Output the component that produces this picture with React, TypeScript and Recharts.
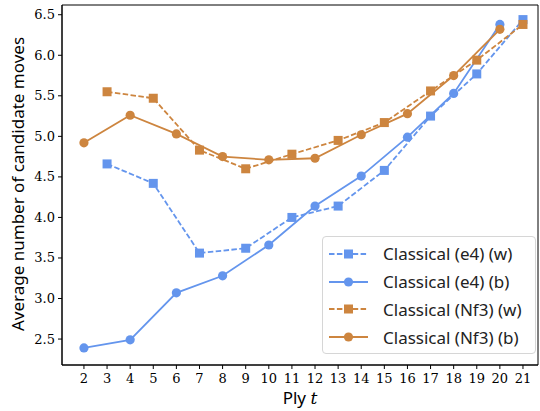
import React from 'react';
import { LineChart, Line, XAxis, YAxis, Legend, ReferenceArea } from 'recharts';

const plies = [2, 3, 4, 5, 6, 7, 8, 9, 10, 11, 12, 13, 14, 15, 16, 17, 18, 19, 20, 21];
const whitePlies = [3, 5, 7, 9, 11, 13, 15, 17, 19, 21];
const blackPlies = [2, 4, 6, 8, 10, 12, 14, 16, 18, 20];

const e4White = [4.66, 4.42, 3.56, 3.62, 4.0, 4.14, 4.58, 5.25, 5.77, 6.44];
const e4Black = [2.39, 2.49, 3.07, 3.28, 3.66, 4.14, 4.51, 4.99, 5.53, 6.38];
const nf3White = [5.55, 5.47, 4.83, 4.6, 4.78, 4.95, 5.17, 5.56, 5.94, 6.38];
const nf3Black = [4.92, 5.26, 5.03, 4.75, 4.71, 4.73, 5.02, 5.28, 5.75, 6.32];

const yTicks = [2.5, 3.0, 3.5, 4.0, 4.5, 5.0, 5.5, 6.0, 6.5];
const X_DOMAIN = [1.05, 21.65];
const Y_DOMAIN = [2.18, 6.62];

const BLUE = '#6495ED';
const ORANGE = '#CD853F';

const series = [
  { key: 'e4w', name: 'Classical (e4) (w)', color: BLUE, dashed: true, marker: 'square', plies: whitePlies, values: e4White },
  { key: 'e4b', name: 'Classical (e4) (b)', color: BLUE, dashed: false, marker: 'circle', plies: blackPlies, values: e4Black },
  { key: 'nf3w', name: 'Classical (Nf3) (w)', color: ORANGE, dashed: true, marker: 'square', plies: whitePlies, values: nf3White },
  { key: 'nf3b', name: 'Classical (Nf3) (b)', color: ORANGE, dashed: false, marker: 'circle', plies: blackPlies, values: nf3Black },
];

const data = plies.map((ply) => {
  const row: Record<string, number | undefined> = { ply };
  series.forEach((s) => {
    const i = s.plies.indexOf(ply);
    row[s.key] = i >= 0 ? s.values[i] : undefined;
  });
  return row;
});

const DASH = '5.5 2.4';
const SERIF = '"DejaVu Serif", serif';
const SANS = '"Noto Sans", "DejaVu Sans", sans-serif';

function makeDot(marker: string, color: string) {
  return (props: any) => {
    const { cx, cy, index, value } = props;
    if (value == null || cx == null || cy == null) return <g key={`d-${index}`} />;
    if (marker === 'square') {
      return <rect key={`d-${index}`} x={cx - 4.5} y={cy - 4.5} width={9} height={9} fill={color} />;
    }
    return <circle key={`d-${index}`} cx={cx} cy={cy} r={4.6} fill={color} />;
  };
}

// serif tick labels, like the LaTeX ones in the original
function XTick(props: any) {
  const { x, y, payload } = props;
  return (
    <text x={x} y={y + 11} textAnchor="middle" fontFamily={SERIF} fontSize={13} fill="#000">
      {payload.value}
    </text>
  );
}

function YTick(props: any) {
  const { x, y, payload } = props;
  return (
    <text x={x} y={y + 4.5} textAnchor="end" fontFamily={SERIF} fontSize={13} fill="#000">
      {Number(payload.value).toFixed(1)}
    </text>
  );
}

function LegendBox() {
  return (
    <div
      style={{
        width: 214,
        height: 118,
        border: '1px solid #d6d6d6',
        borderRadius: 4,
        background: 'rgba(255,255,255,0.8)',
        boxSizing: 'border-box',
        paddingTop: 3,
      }}
    >
      {series.map((s) => (
        <div key={s.key} style={{ display: 'flex', alignItems: 'center', height: 27.8 }}>
          <svg width={60} height={20} style={{ flex: 'none' }}>
            <line x1={6} y1={10} x2={45} y2={10} stroke={s.color} strokeWidth={1.8} strokeDasharray={s.dashed ? DASH : undefined} />
            {s.marker === 'square' ? (
              <rect x={21} y={5.5} width={9} height={9} fill={s.color} />
            ) : (
              <circle cx={25.5} cy={10} r={4.6} fill={s.color} />
            )}
          </svg>
          <span style={{ fontFamily: SANS, fontSize: 17, color: '#222', whiteSpace: 'nowrap' }}>{s.name}</span>
        </div>
      ))}
    </div>
  );
}

export default function App() {
  return (
    <div style={{ position: 'absolute', left: 0, top: 0, width: 540, height: 411, background: '#fff' }}>
      <LineChart width={540} height={411} data={data} margin={{ top: 5, right: 2, left: 0, bottom: 0 }}>
        <XAxis
          dataKey="ply"
          type="number"
          domain={X_DOMAIN}
          ticks={plies}
          allowDataOverflow
          height={46}
          stroke="#000"
          tickSize={4}
          tickMargin={3}
          tick={<XTick />}
          label={{
            content: () => (
              <text x={300} y={404} textAnchor="middle" fontFamily={SANS} fontSize={17} fill="#000">
                Ply <tspan fontFamily={SERIF} fontStyle="italic">t</tspan>
              </text>
            ),
          }}
        />
        <YAxis
          type="number"
          domain={Y_DOMAIN}
          ticks={yTicks}
          allowDataOverflow
          width={62}
          stroke="#000"
          tickSize={4}
          tickMargin={3}
          tick={<YTick />}
          label={{
            content: () => (
              <text
                x={24}
                y={184}
                transform="rotate(-90 24 184)"
                textAnchor="middle"
                fontFamily={SANS}
                fontSize={17}
                fill="#000"
              >
                Average number of candidate moves
              </text>
            ),
          }}
        />
        <ReferenceArea
          x1={X_DOMAIN[0]}
          x2={X_DOMAIN[1]}
          y1={Y_DOMAIN[0]}
          y2={Y_DOMAIN[1]}
          fill="none"
          stroke="#000"
          strokeWidth={1}
          fillOpacity={0}
        />
        {series.map((s) => (
          <Line
            key={s.key}
            dataKey={s.key}
            name={s.name}
            stroke={s.color}
            strokeWidth={1.8}
            strokeDasharray={s.dashed ? DASH : undefined}
            dot={makeDot(s.marker, s.color)}
            activeDot={false}
            connectNulls
            isAnimationActive={false}
          />
        ))}
        <Legend
          layout="vertical"
          align="center"
          verticalAlign="middle"
          content={() => <LegendBox />}
          wrapperStyle={{ position: 'absolute', left: 322, top: 236, width: 214, height: 118 }}
        />
      </LineChart>
    </div>
  );
}
